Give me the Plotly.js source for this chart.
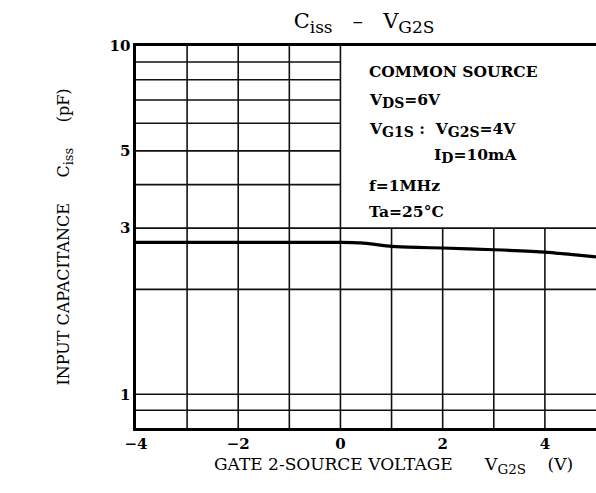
<!DOCTYPE html>
<html><head><meta charset="utf-8">
<script src="https://cdn.plot.ly/plotly-3.0.1.min.js"></script>
<style>html,body{margin:0;padding:0;background:#fff;}#chart{width:596px;height:493px;}</style>
</head><body><div id="chart"></div>
<script>
// ---- data ----
const vg2s = [-4, -3, -2, -1, 0, 0.4, 1, 1.5, 2, 3, 4, 4.5, 5];
const ciss = [2.73, 2.73, 2.73, 2.73, 2.73, 2.72, 2.66, 2.64, 2.63, 2.60, 2.56, 2.52, 2.48];
const xTickVals = [-4, -2, 0, 2, 4];
const xTickText = ['−4', '−2', '0', '2', '4'];
const yTickVals = [1, 3, 5, 10];
const yTickText = ['1', '3', '5', '10'];
// grid layout of the printed chart
const vGridFull = [-3, -2, -1, 0];      // verticals spanning full height
const vGridLower = [1, 2, 3, 4];        // verticals below the condition box
const hGridLeft = [4, 5, 6, 7, 8, 9];   // horizontals left of the condition box
const hGridFull = [0.9, 1, 2, 3];       // horizontals across full width
const xRange = [-4, 5];
const yRange = [0.8, 10];
const boxBottom = 3;
const boxLeft = 0;

const NB = '\u00A0';
const sp = n => NB.repeat(n);
const sub = (t, px) => '<sub><span style="font-size:' + px + 'px">' + t + '</span></sub>';
const conditions = [
  'COMMON SOURCE',
  'V' + sub('DS', 14) + '=6V',
  'V' + sub('G1S', 14) + sp(1) + ':' + sp(2) + 'V' + sub('G2S', 14) + '=4V',
  'I' + sub('D', 14) + '=10mA',
  'f=1MHz',
  'Ta=25°C'
];

const FONT = 'DejaVu Serif';
const W = 596, H = 493;
const M = {l: 136, r: 0, t: 46, b: 65};
const plotW = W - M.l - M.r;
const plotH = H - M.t - M.b;
const py2paper = py => (H - M.b - py) / plotH;
const px2paper = px => (px - M.l) / plotW;

// grid traces
function segs(list) {
  const xs = [], ys = [];
  list.forEach(s => { xs.push(s[0], s[2], null); ys.push(s[1], s[3], null); });
  return {xs, ys};
}
const gridSegs = [];
vGridFull.forEach(v => gridSegs.push([v, yRange[0], v, yRange[1]]));
vGridLower.forEach(v => gridSegs.push([v, yRange[0], v, boxBottom]));
hGridLeft.forEach(v => gridSegs.push([xRange[0], v, boxLeft, v]));
hGridFull.forEach(v => gridSegs.push([xRange[0], v, xRange[1], v]));
const g = segs(gridSegs);

const traces = [
  {x: g.xs, y: g.ys, mode: 'lines', line: {color: '#111', width: 1.6}, hoverinfo: 'skip', showlegend: false, connectgaps: false},
  {x: vg2s, y: ciss, mode: 'lines', line: {color: '#000', width: 3.2, shape: 'spline', smoothing: 0.6}, showlegend: false, name: 'Ciss'}
];

const condY = [71.7, 100.5, 129, 155.5, 185, 211.7];
const condX = [0.52, 0.52, 0.52, 1.8, 0.52, 0.52];
const annotations = conditions.map((t, i) => ({
  text: t, x: condX[i], xref: 'x', xanchor: 'left',
  y: py2paper(condY[i]), yref: 'paper', yanchor: 'middle',
  showarrow: false, font: {family: FONT, size: 15.5, color: '#000', weight: 'bold'}
}));
annotations.push({
  text: 'GATE 2-SOURCE VOLTAGE' + sp(6) + 'V' + sub('G2S', 13.5) + sp(4) + '(V)',
  x: px2paper(212), xref: 'paper', xanchor: 'left',
  y: py2paper(465), yref: 'paper', yanchor: 'middle',
  showarrow: false, font: {family: FONT, size: 17, color: '#000'}
});

const layout = {
  width: W, height: H,
  margin: M,
  paper_bgcolor: '#fff', plot_bgcolor: '#fff',
  showlegend: false,
  title: {text: 'C' + sub('iss', 17) + sp(3) + '–' + sp(3) + 'V' + sub('G2S', 17), x: 364 / W, xanchor: 'center', y: 1 - 21 / H, yanchor: 'middle',
          font: {family: FONT, size: 21, color: '#000'}},
  xaxis: {
    range: xRange, type: 'linear',
    tickvals: xTickVals, ticktext: xTickText,
    showgrid: false, zeroline: false,
    showline: true, mirror: true, linecolor: '#000', linewidth: 2.6,
    ticks: '',
    tickfont: {family: FONT, size: 15, color: '#000', weight: 'bold'}
  },
  yaxis: {
    type: 'log', range: [Math.log10(yRange[0]), Math.log10(yRange[1])],
    tickvals: yTickVals, ticktext: yTickText,
    showgrid: false, zeroline: false,
    showline: true, mirror: false, linecolor: '#000', linewidth: 2.6,
    ticks: '',
    tickfont: {family: FONT, size: 15, color: '#000', weight: 'bold'},
    title: {text: 'INPUT CAPACITANCE' + sp(5) + 'C' + sub('iss', 13) + sp(5) + '(pF)', standoff: 36,
            font: {family: FONT, size: 16, color: '#000'}},
    automargin: false
  },
  annotations: annotations
};

Plotly.newPlot('chart', traces, layout, {displayModeBar: false, staticPlot: true});
</script>
</body></html>
